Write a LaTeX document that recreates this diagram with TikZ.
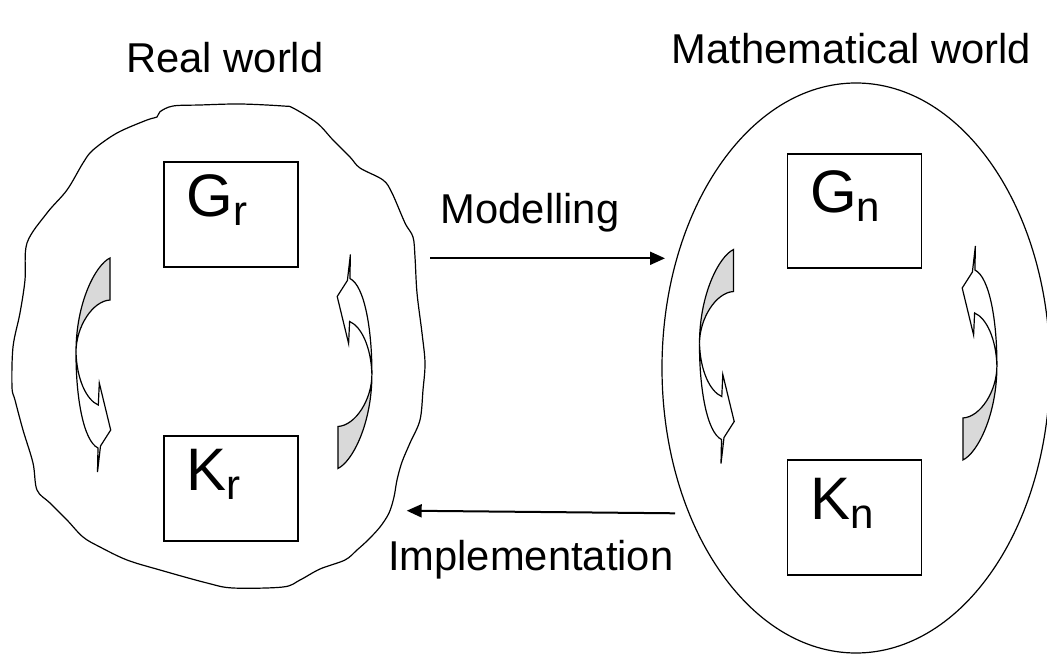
\documentclass[tikz,border=0pt]{standalone}
\usepackage{fontspec}
\setmainfont{Liberation Sans}
\usetikzlibrary{arrows.meta,shapes.geometric}
\tikzset{
  world/.style={draw, line width=1.2pt},
  statebox/.style={draw, line width=1.1pt, minimum width=134pt, inner sep=0pt},
  sym/.style={anchor=base west, inner sep=0pt, font=\fontsize{60}{60}\selectfont},
  caption/.style={anchor=base, inner sep=0pt, font=\fontsize{41.7}{50}\selectfont},
  flow/.style={-{Triangle[length=15pt,width=13pt]}, line width=2pt},
  backpart/.style={draw, line width=1.2pt, fill=black!15, line join=miter},
  facepart/.style={draw, line width=1.2pt, fill=white, line join=miter},
  bentarrow/.pic={
    \path[backpart] (16.6,-107) .. controls (2,-100) and (-17.4,-62) .. (-17.4,-13)
      .. controls (-17.4,-38) and (-1,-64) .. (16.6,-65) -- cycle;
    \path[facepart] (-17.4,-13) .. controls (-17.6,32) and (-10,76) .. (4.6,83)
      -- (4.1,107) -- (7.1,81) -- (17.3,65) -- (5.9,18) -- (4.9,40)
      .. controls (-7,35) and (-16.7,14) .. (-17.4,-13) -- cycle;
  },
}
\newcommand{\lowidx}[1]{\raisebox{-9pt}{\fontsize{42}{42}\selectfont #1}}

\begin{document}
\begin{tikzpicture}[x=1pt,y=-1pt]
\useasboundingbox (0,0) rectangle (1047,655);
\draw[world] plot[smooth cycle, tension=0.55] coordinates {
  (160,111.7) (173,106) (200,105) (240,104) (283,106) (293,108) (317,123)
  (333,140) (350,157) (360,168) (383,180) (392,193) (405,223) (413,237)
  (415,257) (417,293) (422,333) (425,363) (423,390) (420,420) (410,443)
  (402,462) (397,480) (394,497) (389,513) (380,527) (368,540) (357,550)
  (345,560) (320,569) (300,580) (283,587) (233,588) (207,583) (160,570)
  (127,560) (100,547) (83,537) (67,520) (50,503) (37,490) (33,463)
  (23,430) (15,400) (12,387) (13,347) (20,313) (25,280) (27,243) (47,213)
  (67,190) (83,163) (93,150) (117,133) (147,120) (157,117)};
\node[world, ellipse, minimum width=388pt, minimum height=570pt, inner sep=0pt] (mathworld) at (856,368) {};
\node[statebox, minimum height=105pt] (gr) at (231,214.5) {};
\node[statebox, minimum height=105pt] (kr) at (231,488.5) {};
\node[statebox, minimum height=114pt] (gn) at (854.5,211) {};
\node[statebox, minimum height=115pt] (kn) at (854.5,517.5) {};
\foreach \b/\s/\t/\d in {gr/G/r/55,kr/K/r/55,gn/G/n/59,kn/K/n/60}
  \node[sym] (lbl\b) at ([xshift=23pt,yshift=-\d pt]\b.north west) {\s\lowidx{\t}};
\foreach \px/\py/\r in {93.4/365/0,354.5/361.5/180,716.9/356.5/0,979.5/353/180}
  \pic[rotate=\r] at (\px,\py) {bentarrow};
\coordinate (modstart) at (430,258.3);
\coordinate (modend) at (665,258.3);
\coordinate (impstart) at (675,513.3);
\coordinate (impend) at (406.7,510.7);
\draw[flow] (modstart) -- (modend);
\draw[flow] (impstart) -- (impend);
\node[caption] (realtitle) at (225,73) {Real world};
\node[caption, anchor=base west] (mathtitle) at (671.7,64) {Mathematical world};
\node[caption] (modlabel) at (530,224) {Modelling};
\node[caption, anchor=base west] (impllabel) at (388,570) {Implementation};
\end{tikzpicture}
\end{document}
